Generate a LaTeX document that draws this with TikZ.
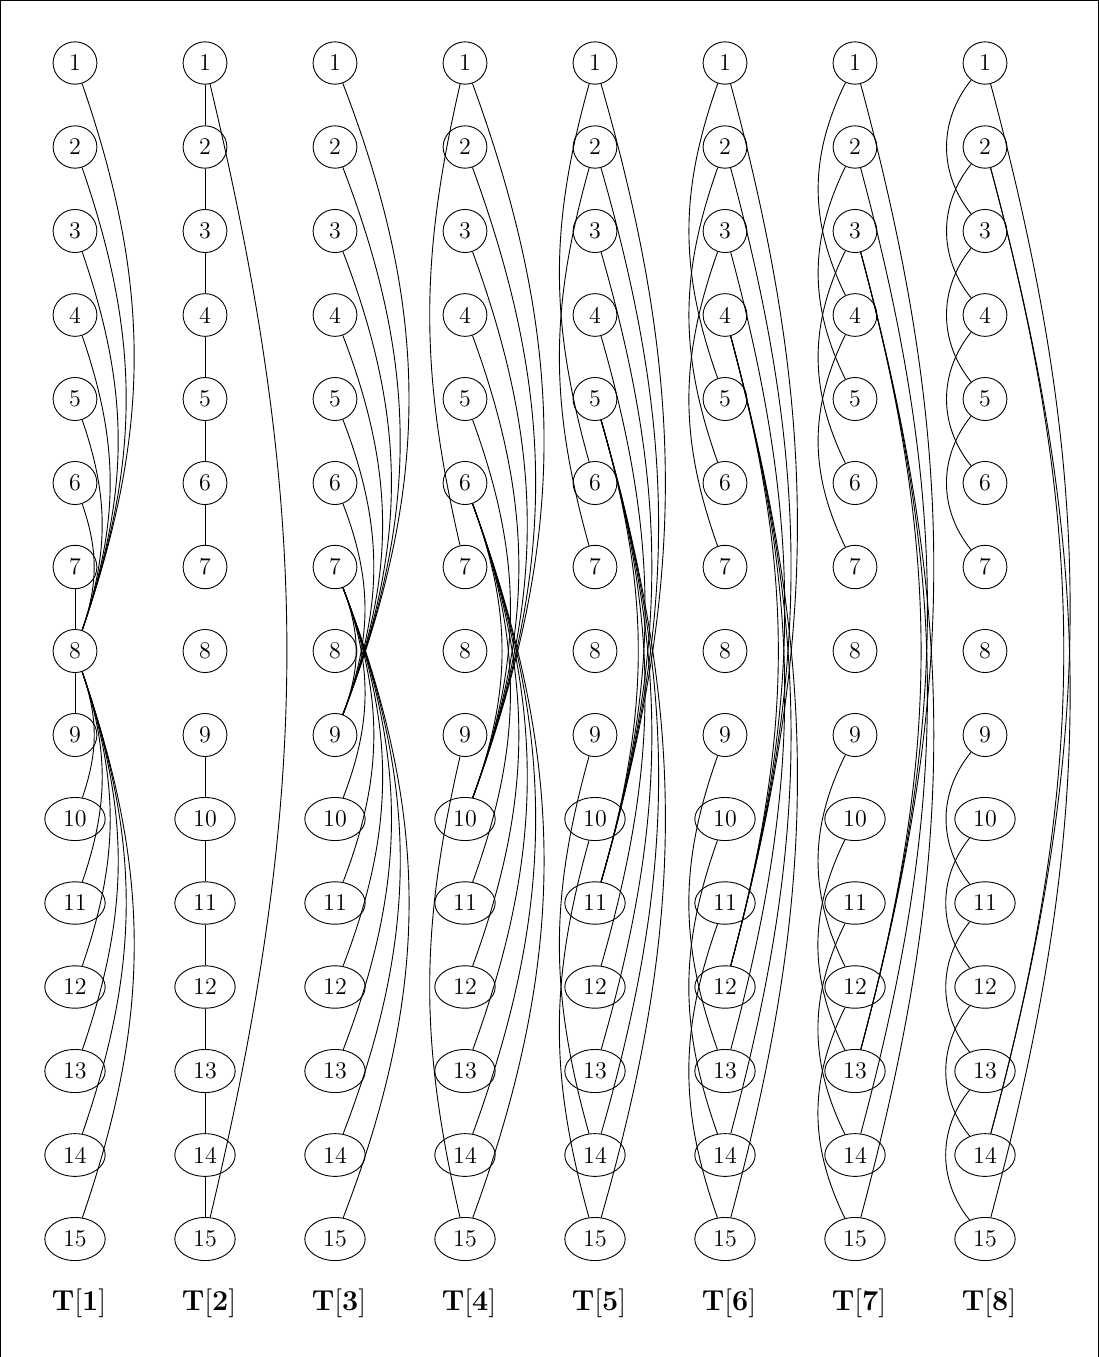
\documentclass[tikz,border=0pt]{standalone}
\usetikzlibrary{shapes.geometric}
\begin{document}
\begin{tikzpicture}[x=0.5pt,y=-0.5pt,
  vtx/.style={draw,ellipse,font=\large,inner xsep=4.8pt,inner ysep=3.5pt},
  lbl/.style={font=\Large},
  frame/.style={line width=0.6pt},
  every path/.style={line width=0.45pt}]
\useasboundingbox (0,0) rectangle (1099,1357);
\draw[frame] (0.6,1357) -- (0.6,0.6) -- (1098.4,0.6) -- (1098.4,1357);
\foreach \cc in {1,...,8} {
  \foreach \r in {1,...,15} {
    \node[vtx] (v\cc-\r) at ({75+130*(\cc-1)},{63+84*(\r-1)}) {\r};
  }
  \node[lbl] (lab\cc) at ({79+130*(\cc-1)},1303) {$\mathbf{T}[\mathbf{\cc}]$};
}
% T[1]: star at 8
\draw (v1-7) -- (v1-8);
\draw (v1-8) -- (v1-9);
\foreach \i in {1,...,6} \draw (v1-\i) to[bend left=19] (v1-8);
\foreach \j in {10,...,15} \draw (v1-8) to[bend left=19] (v1-\j);
% T[2]: two paths and 1-15
\foreach \i in {1,...,6} {
  \pgfmathtruncatemacro\nx{\i+1}
  \draw (v2-\i) -- (v2-\nx);
  \pgfmathtruncatemacro\lo{\i+8}
  \pgfmathtruncatemacro\lx{\i+9}
  \draw (v2-\lo) -- (v2-\lx);
}
\draw (v2-1) to[bend left=13.4] (v2-15);
% T[3]
\foreach \i in {1,...,7} \draw (v3-\i) to[bend left=21] (v3-9);
\foreach \j in {10,...,15} \draw (v3-7) to[bend left=21] (v3-\j);
% T[4]..T[8]
\foreach \ck/\tp/\ang in {4/6/20, 5/5/16, 6/4/15, 7/3/15, 8/2/15} {
  \pgfmathtruncatemacro\bt{16-\tp}
  \pgfmathtruncatemacro\tm{7-\tp}
  \pgfmathtruncatemacro\bp{\bt+1}
  \pgfmathsetmacro\la{78/\tp}
  \foreach \i in {1,...,\tp} \draw (v\ck-\i) to[bend left=\ang] (v\ck-\bt);
  \foreach \j in {\bp,...,15} \draw (v\ck-\tp) to[bend left=\ang] (v\ck-\j);
  \foreach \i in {1,...,\tm} {
    \pgfmathtruncatemacro\ii{\i+\tp}
    \pgfmathtruncatemacro\jj{\i+8}
    \pgfmathtruncatemacro\jk{\i+8+\tp}
    \draw (v\ck-\i) to[bend right=\la] (v\ck-\ii);
    \draw (v\ck-\jj) to[bend right=\la] (v\ck-\jk);
  }
}
\end{tikzpicture}
\end{document}
